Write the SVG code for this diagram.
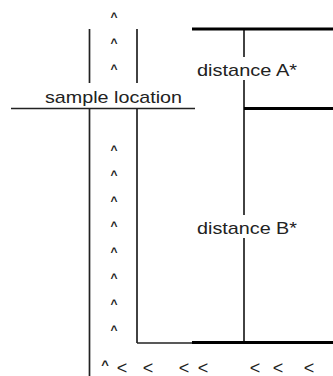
<svg xmlns="http://www.w3.org/2000/svg" width="333" height="376" viewBox="0 0 333 376">
<style>
.thin{stroke:#222;stroke-width:1.7;fill:none}
.thick{stroke:#000;stroke-width:3.2;fill:none}
.lbl{font-family:"Liberation Sans",Arial,sans-serif;font-size:17px;fill:#222}
.car{font-family:"Liberation Sans",Arial,sans-serif;font-size:12px;font-weight:bold;fill:#222;text-anchor:middle}
.lt{font-family:"Liberation Sans",Arial,sans-serif;font-size:18px;fill:#222;text-anchor:middle}
</style>
<rect width="333" height="376" fill="#fff"/>
<g id="connectors">
<path class="thin" d="M89.5 29V83M89.5 109V376"/>
<path class="thin" d="M137 29V83M137 109V343"/>
<path class="thin" d="M11 108.5H195"/>
<path class="thin" d="M244 29V57M244 80V215M244 238V343"/>
<path class="thin" d="M137 343H192"/>
<path class="thick" d="M192 29H333"/>
<path class="thick" d="M244 108.5H333"/>
<path class="thick" d="M192 342.5H333"/>
</g>
<g id="sample-location">
<text class="lbl" x="45" y="103" textLength="137" lengthAdjust="spacingAndGlyphs">sample location</text>
</g>
<g id="distance-a">
<text class="lbl" x="197" y="76" textLength="100" lengthAdjust="spacingAndGlyphs">distance A*</text>
</g>
<g id="distance-b">
<text class="lbl" x="197" y="234" textLength="100" lengthAdjust="spacingAndGlyphs">distance B*</text>
</g>
<g id="flow-up">
<text class="car" x="114" y="20.5">^</text>
<text class="car" x="114" y="46.5">^</text>
<text class="car" x="114" y="72.5">^</text>
<text class="car" x="114" y="153.5">^</text>
<text class="car" x="114" y="178.5">^</text>
<text class="car" x="114" y="204.5">^</text>
<text class="car" x="114" y="229.5">^</text>
<text class="car" x="114" y="255.5">^</text>
<text class="car" x="114" y="281.5">^</text>
<text class="car" x="114" y="307.5">^</text>
<text class="car" x="114" y="333.5">^</text>
</g>
<g id="flow-left">
<text class="car" x="105" y="368.5" style="font-size:13px">^</text>
<text class="lt" x="122" y="373.5">&lt;</text>
<text class="lt" x="148" y="373.5">&lt;</text>
<text class="lt" x="184" y="373.5">&lt;</text>
<text class="lt" x="203" y="373.5">&lt;</text>
<text class="lt" x="255" y="373.5">&lt;</text>
<text class="lt" x="278" y="373.5">&lt;</text>
<text class="lt" x="309" y="373.5">&lt;</text>
</g>
</svg>
